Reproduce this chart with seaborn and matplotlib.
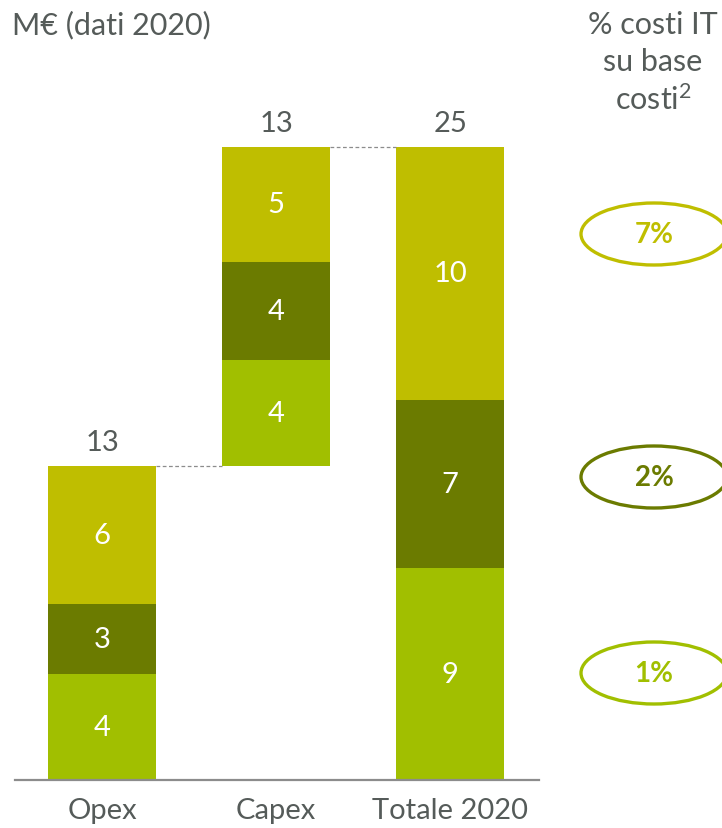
import matplotlib
matplotlib.use("Agg")
import matplotlib.pyplot as plt
from matplotlib.patches import Ellipse
import seaborn as sns
import numpy as np

categories = ["Opex", "Capex", "Totale 2020"]
bottom_layer = [4.26, 4.26, 8.52]
middle_layer = [2.81, 3.94, 6.75]
top_layer = [5.54, 4.62, 10.16]
bottom_labels = ["4", "4", "9"]
middle_labels = ["3", "4", "7"]
top_labels = ["6", "5", "10"]
total_labels = ["13", "13", "25"]
pct_labels = ["7%", "2%", "1%"]

C_TOP = "#BFBE00"
C_MID = "#6B7B00"
C_BOT = "#A1BF00"
GREY = "#555B59"

sns.set_theme(style="white")
plt.rcParams["font.family"] = ["Lato", "DejaVu Sans"]
plt.rcParams["mathtext.fontset"] = "custom"
plt.rcParams["mathtext.rm"] = "Lato"
plt.rcParams["mathtext.it"] = "Lato"

fig = plt.figure(figsize=(7.22, 8.29), dpi=100)
ax = fig.add_axes([15 / 722, 48 / 829, (539 - 15) / 722, 747 / 829])

starts = [0.0, sum([bottom_layer[0], middle_layer[0], top_layer[0]]), 0.0]
b1 = np.array(starts)
b2 = b1 + np.array(bottom_layer)
b3 = b2 + np.array(middle_layer)
tops = b3 + np.array(top_layer)

w = 0.62
for vals, bots, col in [(bottom_layer, b1, C_BOT), (middle_layer, b2, C_MID), (top_layer, b3, C_TOP)]:
    sns.barplot(x=categories, y=vals, bottom=bots, color=col, width=w,
                saturation=1, ax=ax, order=categories, errorbar=None, linewidth=0)

FS = 21
for i in range(3):
    for vals, bots, labs in [(bottom_layer, b1, bottom_labels), (middle_layer, b2, middle_labels), (top_layer, b3, top_labels)]:
        ax.text(i, bots[i] + vals[i] / 2, labs[i], ha="center", va="center",
                color="white", fontsize=FS)
    ax.text(i, tops[i] + 0.45, total_labels[i], ha="center", va="bottom",
            color=GREY, fontsize=FS)

for i in range(2):
    ax.plot([i + w / 2, i + 1 - w / 2], [tops[i], tops[i]], ls=(0, (3, 2)),
            color="#8C8C8C", lw=0.9)

ax.set_xlim(-0.5, 2.51)
ax.set_ylim(0, 30)
ax.set_yticks([])
ax.set_xlabel("")
ax.set_ylabel("")
for s in ["top", "right", "left"]:
    ax.spines[s].set_visible(False)
ax.spines["bottom"].set_color("#8C8C8C")
ax.spines["bottom"].set_linewidth(1.6)
ax.tick_params(axis="x", length=0, pad=12, labelsize=FS, labelcolor=GREY)

fig.text(12 / 722, 1 - 25 / 829, "M€ (dati 2020)", ha="left", va="center",
         color=GREY, fontsize=22)
for y, t in [(25, "% costi IT"), (62, "su base"), (100, "costi$^{2}$")]:
    fig.text(653 / 722, 1 - y / 829, t, ha="center", va="center",
             color=GREY, fontsize=22)

for yc, lab, col in [(235, pct_labels[0], C_TOP), (478, pct_labels[1], C_MID), (674, pct_labels[2], C_BOT)]:
    e = Ellipse((654 / 722, 1 - yc / 829), 146 / 722, 62 / 829,
                transform=fig.transFigure, fill=False, edgecolor=col, lw=2.4)
    fig.add_artist(e)
    fig.text(654 / 722, 1 - yc / 829, lab, ha="center", va="center",
             color=col, fontsize=20, fontweight="bold")

fig.savefig("out.png", dpi=100)
